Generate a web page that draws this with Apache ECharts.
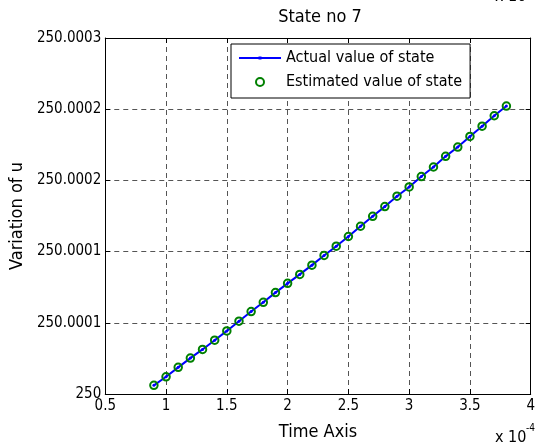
<!DOCTYPE html>
<html>
<head>
<meta charset="utf-8">
<script src="https://cdn.jsdelivr.net/npm/echarts@6/dist/echarts.min.js"></script>
<style>
html,body{margin:0;padding:0;background:#fff;}
#chart{width:538px;height:448px;}
</style>
</head>
<body>
<div id="chart"></div>
<script>
// Time axis values (in units of 1e-4)
const timeE4 = [0.9,1.0,1.1,1.2,1.3,1.4,1.5,1.6,1.7,1.8,1.9,2.0,2.1,2.2,2.3,2.4,2.5,2.6,2.7,2.8,2.9,3.0,3.1,3.2,3.3,3.4,3.5,3.6,3.7,3.8];
const actualValues = [250.0000061,250.0000121,250.0000187,250.0000252,250.0000313,250.0000378,250.0000443,250.0000511,250.0000579,250.0000644,250.0000712,250.0000777,250.0000840,250.0000905,250.0000973,250.0001038,250.0001106,250.0001178,250.0001248,250.0001316,250.0001389,250.0001454,250.0001527,250.0001594,250.0001669,250.0001734,250.0001809,250.0001881,250.0001954,250.0002022];
const estimatedValues = [250.0000061,250.0000121,250.0000187,250.0000252,250.0000313,250.0000378,250.0000443,250.0000511,250.0000579,250.0000644,250.0000712,250.0000777,250.0000840,250.0000905,250.0000973,250.0001038,250.0001106,250.0001178,250.0001248,250.0001316,250.0001389,250.0001454,250.0001527,250.0001594,250.0001669,250.0001734,250.0001809,250.0001881,250.0001954,250.0002022];
const xTickLabels = ['0.5','1','1.5','2','2.5','3','3.5','4'];
const yTickLabels = ['250','250.0001','250.0001','250.0002','250.0002','250.0003'];

const FONT = '"DejaVu Sans Condensed", "DejaVu Sans", sans-serif';
const chart = echarts.init(document.getElementById('chart'), null, {renderer:'canvas'});

const grid = {left:104, right:4, top:38, bottom:54, containLabel:false};
const dashed = {show:true, showMinLine:false, showMaxLine:false, lineStyle:{color:'#555', width:1, type:[5,4]}};
const axLine = {show:true, lineStyle:{color:'#000', width:1}};
const tick = {show:true, inside:true, length:5, lineStyle:{color:'#000'}};

const option = {
  animation:false,
  backgroundColor:'#fff',
  grid: grid,
  legend: {
    orient:'vertical',
    left:231, top:44,
    backgroundColor:'#fff',
    borderColor:'#000', borderWidth:1, borderRadius:0,
    padding:[6,8,8,8],
    itemWidth:42, itemHeight:8, itemGap:8,
    textStyle:{color:'#000', fontSize:16, lineHeight:16, fontFamily:FONT},
    selectedMode:false,
    data:[
      {name:'Actual value of state', icon:'path://M0,3L42,3L42,5L0,5Z M19.5,2.5L22.5,2.5L22.5,5.5L19.5,5.5Z', itemStyle:{color:'#0000ff', borderWidth:0}},
      {name:'Estimated value of state', icon:'circle', itemStyle:{color:'rgba(0,0,0,0)', borderColor:'#008000', borderWidth:2}}
    ]
  },
  xAxis: [
    {type:'value', position:'bottom', min:0.5, max:4, interval:0.5,
     axisLine:axLine, axisTick:tick, splitLine:dashed,
     axisLabel:{color:'#000', fontSize:15, fontFamily:FONT, margin:5,
       formatter:(v,i)=>xTickLabels[i]},
     name:'Time Axis', nameLocation:'middle', nameGap:29,
     nameTextStyle:{color:'#000', fontSize:18, fontFamily:FONT}},
    {type:'value', position:'top', min:0.5, max:4, interval:0.5,
     axisLine:axLine, axisTick:tick, splitLine:{show:false}, axisLabel:{show:false}}
  ],
  yAxis: [
    {type:'value', position:'left', min:250, max:250.00025, interval:0.00005,
     axisLine:axLine, axisTick:tick, splitLine:dashed,
     axisLabel:{color:'#000', fontSize:15, fontFamily:FONT, margin:4,
       formatter:(v,i)=>yTickLabels[i]},
     name:'Variation of u', nameLocation:'middle', nameRotate:90, nameGap:73,
     nameTextStyle:{color:'#000', fontSize:18, fontFamily:FONT}},
    {type:'value', position:'right', min:250, max:250.00025, interval:0.00005,
     axisLine:axLine, axisTick:tick, splitLine:{show:false}, axisLabel:{show:false}}
  ],
  series: [
    {name:'Actual value of state', type:'line', xAxisIndex:0, yAxisIndex:0,
     data: timeE4.map((t,i)=>[t, actualValues[i]]),
     symbol:'circle', symbolSize:3, showSymbol:true,
     lineStyle:{color:'#0000ff', width:2},
     itemStyle:{color:'#0000ff'}, z:2, silent:true},
    {name:'Estimated value of state', type:'line', xAxisIndex:0, yAxisIndex:0,
     data: timeE4.map((t,i)=>[t, estimatedValues[i]]),
     symbol:'circle', symbolSize:7.5, showSymbol:true,
     lineStyle:{width:0, opacity:0},
     itemStyle:{color:'rgba(0,0,0,0)', borderColor:'#008000', borderWidth:2}, z:3, silent:true}
  ],
  graphic: [
    {type:'text', x:320, y:17, style:{text:'State no 7', fill:'#000', font:'18px '+FONT, textAlign:'center', textVerticalAlign:'middle'}},
    {type:'text', x:495, y:438, style:{text:'x 10', fill:'#000', font:'16px '+FONT, textAlign:'left', textVerticalAlign:'middle'}},
    {type:'text', x:526, y:428, style:{text:'-4', fill:'#000', font:'10px '+FONT, textAlign:'left', textVerticalAlign:'middle'}},
    {type:'text', x:495, y:-3, style:{text:'x 10', fill:'#000', font:'16px '+FONT, textAlign:'left', textVerticalAlign:'middle'}}
  ]
};
chart.setOption(option);
</script>
</body>
</html>
